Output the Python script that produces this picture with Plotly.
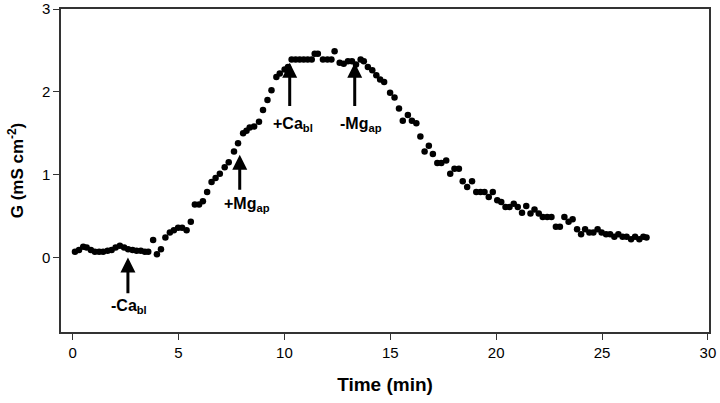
import plotly.graph_objects as go

time_min = [
    0.11, 0.30, 0.50, 0.66, 0.86, 1.05, 1.25, 1.44, 1.65, 1.84, 2.03, 2.23, 2.43, 2.62, 2.83, 3.02, 3.22, 3.41, 3.57,
    3.80, 3.98, 4.17, 4.38, 4.59, 4.78, 4.98, 5.17, 5.38, 5.58, 5.77, 5.97, 6.15, 6.35, 6.56, 6.75, 6.95, 7.18, 7.37,
    7.62, 7.81, 8.05, 8.21, 8.36, 8.57, 8.80, 8.99, 9.20, 9.39, 9.62, 9.78, 10.01, 10.17,
    10.34, 10.53, 10.72, 10.91, 11.10, 11.29, 11.43, 11.58, 11.82, 12.03, 12.22, 12.37, 12.61, 12.80, 13.00, 13.19,
    13.38, 13.60, 13.75, 13.94, 14.15, 14.34, 14.52, 14.71, 14.99, 15.20, 15.41, 15.59, 15.83, 16.02, 16.23, 16.42,
    16.62, 16.82, 17.01, 17.22, 17.41, 17.64, 17.83, 18.03, 18.24, 18.42, 18.63, 18.86, 19.06, 19.26, 19.45, 19.65,
    19.84, 20.05, 20.24, 20.44, 20.63, 20.83, 21.02, 21.22, 21.42, 21.62, 21.81, 22.01, 22.20, 22.41, 22.61, 22.82,
    23.01, 23.22, 23.42, 23.61, 23.82, 24.01, 24.20, 24.40, 24.59, 24.79, 24.98, 25.19, 25.38, 25.58, 25.77, 25.97,
    26.16, 26.37, 26.56, 26.76, 26.95, 27.10,
]
conductance = [
    0.07, 0.09, 0.13, 0.12, 0.09, 0.07, 0.07, 0.07, 0.08, 0.09, 0.12, 0.14, 0.12, 0.10, 0.09, 0.08, 0.08, 0.07, 0.07,
    0.21, 0.04, 0.10, 0.24, 0.30, 0.33, 0.36, 0.36, 0.33, 0.43, 0.64, 0.64, 0.68, 0.79, 0.91, 0.96, 1.01, 1.09, 1.15,
    1.28, 1.38, 1.50, 1.53, 1.57, 1.58, 1.64, 1.78, 1.90, 2.02, 2.18, 2.22, 2.27, 2.30,
    2.39, 2.39, 2.39, 2.39, 2.39, 2.39, 2.46, 2.46, 2.39, 2.39, 2.39, 2.49, 2.35, 2.34, 2.37, 2.37,
    2.33, 2.39, 2.37, 2.30, 2.26, 2.20, 2.15, 2.12, 1.99, 1.93, 1.80, 1.65, 1.72, 1.65, 1.62, 1.46,
    1.28, 1.35, 1.25, 1.14, 1.14, 1.17, 1.01, 1.07, 1.07, 0.92, 0.85, 0.92, 0.79, 0.79, 0.79, 0.73,
    0.79, 0.69, 0.67, 0.61, 0.61, 0.65, 0.61, 0.54, 0.62, 0.53, 0.58, 0.53, 0.49, 0.49, 0.49, 0.37,
    0.37, 0.49, 0.43, 0.46, 0.34, 0.28, 0.34, 0.30, 0.30, 0.34, 0.30, 0.28, 0.28, 0.25, 0.28, 0.25,
    0.25, 0.22, 0.25, 0.22, 0.25, 0.24,
]

x_ticks = [0, 5, 10, 15, 20, 25, 30]
y_ticks = [0, 1, 2, 3]

event_labels = ["-Ca<sub>bl</sub>", "+Mg<sub>ap</sub>", "+Ca<sub>bl</sub>", "-Mg<sub>ap</sub>"]
event_times = [2.61, 7.89, 10.25, 13.32]

FONT = "Liberation Sans, Arial, sans-serif"

fig = go.Figure()
fig.add_trace(go.Scatter(
    x=time_min, y=conductance, mode="markers",
    marker=dict(color="black", size=6.5, line=dict(width=0)),
    showlegend=False, hoverinfo="x+y",
))

# arrow geometry (tip y, tail y, label y, label x offset) in data units
arrow_tip = [0.0, 1.24, 2.35, 2.35]
arrow_tail = [-0.45, 0.80, 1.81, 1.81]
label_y = [-0.59, 0.64, 1.61, 1.61]
label_dx = [0.05, 0.33, 0.14, 0.28]

for lab, t, tip, tail, ly, dx in zip(event_labels, event_times, arrow_tip, arrow_tail, label_y, label_dx):
    fig.add_annotation(
        x=t, y=tip, ax=t, ay=tail, xref="x", yref="y", axref="x", ayref="y",
        text="", showarrow=True, arrowhead=2, arrowsize=1.0, arrowwidth=3,
        arrowcolor="black", standoff=0,
    )
    fig.add_annotation(
        x=t + dx, y=ly, xref="x", yref="y", text="<b>" + lab + "</b>",
        showarrow=False, font=dict(family=FONT, size=16, color="black"),
    )

axis_common = dict(
    showline=True, linecolor="#333333", linewidth=1.5, mirror=True,
    ticks="outside", ticklen=6, tickwidth=1.2, tickcolor="#333333",
    showgrid=False, zeroline=False, automargin=False,
    tickfont=dict(family=FONT, size=15, color="black"),
)

fig.update_xaxes(
    range=[-0.55, 30.05], tickvals=x_ticks, ticktext=[str(v) for v in x_ticks],
    title=dict(text="<b>Time (min)</b>", font=dict(family=FONT, size=19, color="black"), standoff=18),
    **axis_common,
)
fig.update_yaxes(
    range=[-0.9, 3.0], tickvals=y_ticks, ticktext=[str(v) for v in y_ticks],
    title=dict(text="<b>G (mS cm<sup>-2</sup>)</b>", font=dict(family=FONT, size=17, color="black"), standoff=14),
    **axis_common,
)

fig.update_layout(
    width=720, height=403,
    margin=dict(l=61, r=11, t=9, b=71),
    paper_bgcolor="white", plot_bgcolor="white",
)

fig.write_html(
    "out.html",
    config={"displayModeBar": False},
    post_script="document.body.style.margin='0';document.body.style.padding='0';",
)
